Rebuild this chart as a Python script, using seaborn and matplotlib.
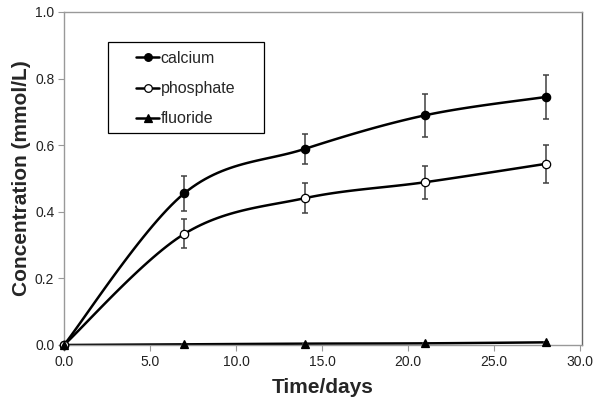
import numpy as np
import seaborn as sns
import matplotlib.pyplot as plt
from matplotlib.patches import Rectangle

days = [0, 7, 14, 21, 28]
calcium = [0.0, 0.456, 0.589, 0.690, 0.745]
calcium_err = [0.0, 0.053, 0.045, 0.064, 0.066]
phosphate = [0.0, 0.334, 0.441, 0.489, 0.544]
phosphate_err = [0.0, 0.043, 0.045, 0.050, 0.057]
fluoride = [0.0, 0.002, 0.004, 0.005, 0.008]
fluoride_err = [0.0, 0.0, 0.0, 0.0, 0.0]

sns.set_theme(style="white")
plt.rcParams['font.family'] = ['Liberation Sans', 'DejaVu Sans']


def smooth(x, y, n=30):
    # excel-like smoothed line: catmull-rom bezier through the points
    x = np.asarray(x, float)
    y = np.asarray(y, float)
    px = np.concatenate([[x[0]], x, [x[-1]]])
    py = np.concatenate([[y[0]], y, [y[-1]]])
    xs, ys = [], []
    t = np.linspace(0, 1, n)
    for i in range(1, len(px) - 2):
        p0 = np.array([px[i], py[i]])
        p3 = np.array([px[i + 1], py[i + 1]])
        c1 = p0 + (p3 - np.array([px[i - 1], py[i - 1]])) / 6
        c2 = p3 - (np.array([px[i + 2], py[i + 2]]) - p0) / 6
        pts = ((1 - t) ** 3)[:, None] * p0 + (3 * (1 - t) ** 2 * t)[:, None] * c1 \
            + (3 * (1 - t) * t ** 2)[:, None] * c2 + (t ** 3)[:, None] * p3
        xs.extend(pts[:, 0])
        ys.extend(pts[:, 1])
    return np.array(xs), np.array(ys)


W, H = 600, 407
fig = plt.figure(figsize=(W / 100, H / 100), dpi=100)
ax = fig.add_axes([64 / W, 1 - 345 / H, (582 - 64) / W, (345 - 12) / H])

series = [
    ('calcium', calcium, calcium_err, 'o', 'black'),
    ('phosphate', phosphate, phosphate_err, 'o', 'white'),
    ('fluoride', fluoride, fluoride_err, '^', 'black'),
]

handles = []
for name, vals, err, marker, face in series:
    sx, sy = smooth(days, vals)
    sns.lineplot(x=sx, y=sy, ax=ax, color='black', lw=1.8, sort=False, zorder=2)
    ax.errorbar(days, vals, yerr=err, fmt='none', ecolor='#404040', elinewidth=1.1,
                capsize=2.5, capthick=1.1, zorder=3)
    ax.plot(days, vals, ls='none', marker=marker, ms=6, mfc=face, mec='black',
            mew=0.9, zorder=4, clip_on=False)
    h, = ax.plot([], [], color='black', lw=1.8, marker=marker, ms=5.5, mfc=face,
                 mec='black', mew=0.9, label=name)
    handles.append(h)

ax.set_xlim(0, 30.1)
ax.set_ylim(0, 1.0)
ax.set_xticks(np.arange(0, 31, 5))
ax.set_xticklabels([f'{v:.1f}' for v in np.arange(0, 31, 5)])
ax.set_yticks(np.arange(0, 1.01, 0.2))
ax.set_yticklabels([f'{v:.1f}' for v in np.arange(0, 1.01, 0.2)])
ax.tick_params(axis='both', labelsize=10, colors='#222222', direction='out',
               length=4, width=0.8, color='#999999', left=True, bottom=True, pad=3)
for s in ['left', 'bottom', 'top']:
    ax.spines[s].set_color('#999999')
    ax.spines[s].set_linewidth(1.0)
ax.spines['right'].set_color('#666666')
ax.spines['right'].set_linewidth(1.0)

ax.set_xlabel('Time/days', fontsize=15, fontweight='bold', labelpad=7)
ax.set_ylabel('Concentration (mmol/L)', fontsize=15, fontweight='bold', labelpad=3)

# legend box drawn as in the original (wide frame)
ax.add_patch(Rectangle((108 / W, 1 - 133 / H), (264 - 108) / W, (133 - 42) / H,
                       transform=fig.transFigure, facecolor='white',
                       edgecolor='black', lw=0.9, zorder=5, clip_on=False))
leg = ax.legend(handles=handles, loc='upper left', bbox_to_anchor=(136 / W, 1 - 51 / H),
                bbox_transform=fig.transFigure, frameon=False, fontsize=11.5,
                handlelength=1.45, handletextpad=0.1, labelspacing=0.95, borderpad=0,
                borderaxespad=0)
leg.set_zorder(6)

fig.savefig('out.png', dpi=100)
